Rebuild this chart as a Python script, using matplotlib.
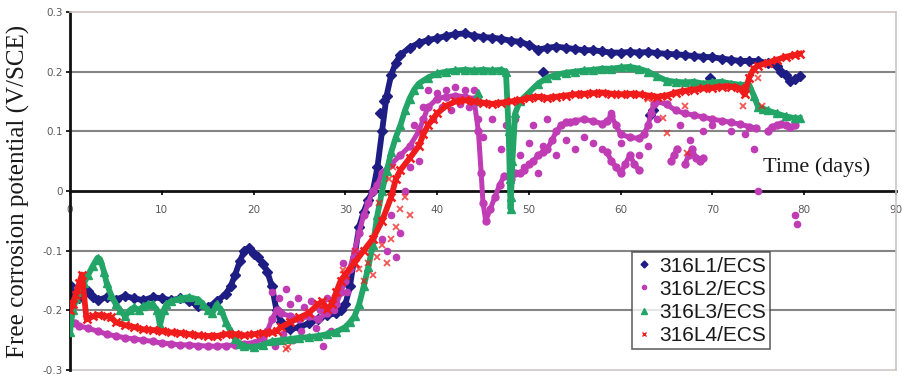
import matplotlib
matplotlib.use("Agg")
import matplotlib.pyplot as plt
from matplotlib.lines import Line2D

# ---- series data: free corrosion potential (V/SCE) vs time (days) ----
l1_days = [0, 0.5, 1, 1.5, 2, 2.5, 3, 4, 5, 6, 7, 8, 9, 10, 11, 12, 13, 14, 15, 16, 17, 17.5,
           18, 18.5, 19, 19.5, 20, 20.5, 21, 21.5, 22, 22.5, 23, 23.5, 24, 25, 26, 27, 28, 29,
           29.5, 30, 30.5, 31, 31.5, 32, 32.5, 33, 33.5, 34, 34.5, 35, 35.5, 36, 37, 38, 39, 40,
           41, 42, 43, 44, 45, 46, 47, 48, 49, 50, 51, 52, 53, 54, 55, 56, 57, 58, 59, 60, 61,
           62, 63, 64, 65, 66, 67, 68, 69, 70, 71, 72, 73, 74, 75, 76, 77, 77.5, 78, 78.5, 79, 79.5]
l1_vals = [-0.158, -0.175, -0.18, -0.172, -0.168, -0.178, -0.183, -0.178, -0.182, -0.176, -0.18,
           -0.183, -0.178, -0.18, -0.183, -0.18, -0.185, -0.192, -0.195, -0.185, -0.172, -0.16,
           -0.14, -0.118, -0.1, -0.095, -0.105, -0.11, -0.122, -0.135, -0.16, -0.2, -0.22, -0.228,
           -0.232, -0.228, -0.222, -0.215, -0.208, -0.205, -0.2, -0.19, -0.16, -0.11, -0.06,
           -0.035, -0.015, 0.0, 0.04, 0.1, 0.16, 0.195, 0.215, 0.228, 0.24, 0.248, 0.253, 0.256,
           0.26, 0.263, 0.264, 0.26, 0.258, 0.257, 0.255, 0.252, 0.25, 0.245, 0.237, 0.24, 0.242,
           0.24, 0.238, 0.236, 0.236, 0.234, 0.232, 0.232, 0.233, 0.232, 0.233, 0.231, 0.23,
           0.229, 0.228, 0.226, 0.225, 0.224, 0.222, 0.22, 0.218, 0.218, 0.218, 0.214, 0.21,
           0.2, 0.195, 0.185, 0.188, 0.192]
l1_extra_days = [51.5, 63.2, 63.5, 69.7, 33.8, 34.2]
l1_extra_vals = [0.2, 0.128, 0.135, 0.19, 0.13, 0.15]

l2_days = [0, 0.5, 1, 2, 3, 4, 5, 6, 7, 8, 9, 10, 11, 12, 13, 14, 15, 16, 17, 18, 19, 20, 21,
           21.5, 22, 22.5, 23, 24, 25, 26, 27, 28, 29, 29.5, 30, 30.5, 31, 31.5, 32, 32.5, 33,
           33.5, 34, 35, 36, 37, 38, 38.5, 39, 40, 41, 42, 43, 44, 44.5, 44.8, 45, 45.3, 45.8,
           46.3, 46.8, 47.3, 48, 48.5, 49, 49.5, 50, 50.5, 51, 51.5, 52, 52.5, 53, 53.5, 54,
           54.5, 55, 56, 57, 58, 58.5, 59, 59.5, 60, 61, 62, 62.5, 63, 63.3, 63.6, 64, 65, 66,
           67, 68, 69, 70, 71, 72, 73, 74, 74.8]
l2_vals = [-0.22, -0.222, -0.226, -0.23, -0.235, -0.24, -0.243, -0.246, -0.248, -0.25, -0.252,
           -0.255, -0.256, -0.258, -0.258, -0.259, -0.26, -0.26, -0.259, -0.258, -0.256, -0.254,
           -0.248, -0.235, -0.215, -0.2, -0.205, -0.21, -0.215, -0.21, -0.215, -0.205, -0.19,
           -0.17, -0.15, -0.13, -0.1, -0.07, -0.04, -0.02, 0.0, 0.01, 0.03, 0.045, 0.06, 0.075,
           0.1, 0.12, 0.14, 0.155, 0.158, 0.16, 0.158, 0.155, 0.1, 0.03, -0.02, -0.05, -0.03,
           -0.01, 0.01, 0.025, 0.02, 0.03, 0.03, 0.035, 0.045, 0.05, 0.06, 0.065, 0.07, 0.085,
           0.1, 0.11, 0.115, 0.115, 0.118, 0.12, 0.117, 0.113, 0.118, 0.125, 0.11, 0.095, 0.09,
           0.088, 0.095, 0.11, 0.13, 0.145, 0.15, 0.145, 0.135, 0.13, 0.127, 0.124, 0.12, 0.118,
           0.115, 0.112, 0.108, 0.105]
l2_low1_days = [58.5, 59, 59.5, 60, 60.5, 61, 61.5, 62]
l2_low1_vals = [0.065, 0.05, 0.04, 0.03, 0.045, 0.06, 0.045, 0.035]
l2_low2_days = [65.5, 65.8, 66.1]
l2_low2_vals = [0.05, 0.06, 0.07]
l2_low3_days = [67, 67.4, 67.8, 68.2, 68.6, 69]
l2_low3_vals = [0.045, 0.06, 0.07, 0.055, 0.05, 0.055]
l2_end_days = [76, 76.5, 77, 77.5, 78, 78.5, 79]
l2_end_vals = [0.1, 0.108, 0.11, 0.112, 0.11, 0.108, 0.11]
l2_scatter_days = [22, 22.3, 22.8, 23.2, 23.5, 24, 24.3, 24.8, 25.2, 25.5, 26, 26.3, 26.8, 27.2,
                   27.6, 28, 28.4, 28.8, 29.2, 29.8, 30.2, 33.5, 34, 34.5, 35, 35.5, 36, 36.5,
                   37, 37.5, 38, 38.5, 39, 39.5, 40, 40.5, 41, 41.5, 42, 42.5, 43, 43.5, 44,
                   44.5, 45, 46, 47, 47.5, 48, 48.5, 49, 49.5, 50, 50.5, 51, 51.5, 52, 53, 54,
                   55, 56, 57, 58, 59, 60, 62, 63, 64, 66.5, 67.5, 69, 70, 72, 73.5, 74.5, 75,
                   79, 79.2]
l2_scatter_vals = [-0.17, -0.26, -0.18, -0.24, -0.165, -0.19, -0.25, -0.18, -0.235, -0.195,
                   -0.245, -0.185, -0.23, -0.2, -0.26, -0.18, -0.235, -0.2, -0.165, -0.12,
                   -0.17, -0.05, -0.08, -0.1, -0.04, -0.11, -0.07, 0.0, 0.04, 0.11, 0.05, 0.14,
                   0.17, 0.12, 0.165, 0.14, 0.17, 0.135, 0.175, 0.145, 0.17, 0.14, 0.17, 0.12,
                   0.09, 0.12, 0.07, 0.11, 0.09, 0.12, 0.06, 0.04, 0.08, 0.11, 0.03, 0.075,
                   0.12, 0.06, 0.085, 0.07, 0.09, 0.08, 0.07, 0.13, 0.08, 0.06, 0.075, 0.12,
                   0.11, 0.085, 0.1, 0.11, 0.1, 0.095, 0.07, 0.0, -0.04, -0.055]

l3_days = [0, 0.3, 0.7, 1, 1.5, 2, 2.5, 3, 3.3, 3.7, 4, 4.5, 5, 5.5, 6, 6.5, 7, 7.5, 8, 8.5, 9,
           9.5, 9.8, 10.2, 10.5, 11, 12, 13, 14, 14.5, 15, 15.5, 16, 16.5, 17, 17.5, 18, 18.5,
           19, 20, 21, 22, 23, 24, 25, 26, 27, 28, 29, 30, 30.5, 31, 31.5, 32, 32.5, 33, 33.5,
           34, 34.5, 35, 35.5, 36, 36.5, 37, 37.5, 38, 39, 40, 41, 42, 43, 44, 45, 46, 47,
           47.5, 47.8, 48, 48.2, 48.5, 49, 50, 51, 52, 53, 54, 55, 56, 57, 58, 59, 60, 61, 62,
           63, 64, 65, 66, 67, 68, 69, 70, 71, 72, 73, 74, 74.5, 75, 75.5, 76, 77, 78, 79, 79.5]
l3_vals = [-0.237, -0.2, -0.18, -0.17, -0.155, -0.14, -0.125, -0.112, -0.115, -0.135, -0.155,
           -0.175, -0.19, -0.2, -0.21, -0.2, -0.195, -0.2, -0.193, -0.19, -0.19, -0.2, -0.225,
           -0.2, -0.19, -0.185, -0.18, -0.178, -0.182, -0.19, -0.2, -0.205, -0.19, -0.2, -0.22,
           -0.235, -0.248, -0.256, -0.26, -0.262, -0.258, -0.252, -0.25, -0.248, -0.246, -0.245,
           -0.243, -0.24, -0.236, -0.228, -0.22, -0.21, -0.19, -0.16, -0.128, -0.09, -0.04, 0.0,
           0.033, 0.065, 0.09, 0.11, 0.135, 0.155, 0.17, 0.18, 0.19, 0.197, 0.2, 0.202, 0.203,
           0.202, 0.203, 0.202, 0.203, 0.2, 0.1, -0.03, 0.05, 0.13, 0.15, 0.165, 0.18, 0.19,
           0.195, 0.198, 0.2, 0.202, 0.203, 0.205, 0.205, 0.207, 0.208, 0.205, 0.2, 0.192,
           0.185, 0.183, 0.182, 0.183, 0.18, 0.182, 0.183, 0.18, 0.178, 0.178, 0.16, 0.14,
           0.138, 0.135, 0.13, 0.125, 0.122, 0.122]
l3_extra_days = [44.5, 44.7, 47.9, 48.1]
l3_extra_vals = [0.165, 0.15, 0.02, -0.01]

l4_days = [0, 0.3, 0.6, 1, 1.3, 1.8, 2.5, 3, 4, 4.5, 5, 6, 7, 8, 9, 10, 11, 12, 13, 14, 15, 16,
           17, 18, 19, 20, 21, 22, 22.5, 23, 24, 25, 26, 27, 27.5, 28, 28.5, 29, 29.5, 30, 31,
           32, 33, 34, 35, 35.5, 36, 37, 38, 38.5, 39, 39.5, 40, 41, 42, 43, 44, 45, 46, 47,
           48, 49, 50, 51, 52, 53, 54, 55, 56, 57, 58, 59, 60, 61, 62, 63, 64, 65, 66, 67, 68,
           69, 70, 71, 72, 73, 73.5, 74, 74.5, 75, 76, 77, 78, 79, 79.5]
l4_vals = [-0.2, -0.19, -0.175, -0.155, -0.14, -0.215, -0.21, -0.208, -0.21, -0.212, -0.22,
           -0.225, -0.228, -0.232, -0.233, -0.235, -0.237, -0.238, -0.24, -0.242, -0.243,
           -0.243, -0.24, -0.24, -0.242, -0.24, -0.238, -0.237, -0.235, -0.228, -0.22, -0.212,
           -0.205, -0.19, -0.185, -0.198, -0.19, -0.17, -0.15, -0.14, -0.12, -0.1, -0.08,
           -0.05, -0.01, 0.02, 0.035, 0.055, 0.075, 0.095, 0.11, 0.12, 0.13, 0.143, 0.15,
           0.152, 0.15, 0.148, 0.146, 0.148, 0.15, 0.152, 0.156, 0.158, 0.156, 0.158, 0.16,
           0.162, 0.163, 0.164, 0.165, 0.163, 0.162, 0.163, 0.162, 0.16, 0.158, 0.16, 0.165,
           0.168, 0.17, 0.172, 0.173, 0.175, 0.175, 0.172, 0.162, 0.19, 0.205, 0.21, 0.215,
           0.22, 0.225, 0.228, 0.23]
l4_scatter_days = [23.5, 23.8, 29.8, 31, 31.5, 32, 32.5, 33, 33.5, 34, 34.5, 35, 35.5, 36, 36.5,
                   37, 34.8, 35.2, 33.7, 63, 64.6, 65.1, 67, 67.2, 73.3, 75, 75.4]
l4_scatter_vals = [-0.265, -0.262, -0.133, -0.1, -0.13, -0.15, -0.12, -0.14, -0.11, -0.09,
                   -0.12, -0.08, -0.06, -0.03, -0.01, -0.04, 0.02, 0.04, -0.02, 0.155, 0.123,
                   0.097, 0.143, 0.063, 0.143, 0.19, 0.142]

labels = ["316L1/ECS", "316L2/ECS", "316L3/ECS", "316L4/ECS"]
colors = ["#1d1d84", "#c03cb4", "#22a566", "#f01c1c"]
markers = ["D", "o", "^", "x"]

x_ticks = [0, 10, 20, 30, 40, 50, 60, 70, 80, 90]
y_ticks = [-0.3, -0.2, -0.1, 0, 0.1, 0.2, 0.3]
y_tick_labels = ["-0.3", "-0.2", "-0.1", "0", "0.1", "0.2", "0.3"]

fig = plt.figure(figsize=(9.02, 3.76), dpi=100)
ax = fig.add_axes([70 / 902, 6 / 376, 826 / 902, 358 / 376])
ax.set_xlim(0, 90)
ax.set_ylim(-0.3, 0.3)

# horizontal grid and frame
for yv in (-0.2, -0.1, 0.1, 0.2):
    ax.axhline(yv, color="#858585", lw=1.5, zorder=0.5)
ax.axhline(-0.3, color="#cfc8c8", lw=1.2, zorder=0.5, clip_on=False)
for side in ("top", "right"):
    ax.spines[side].set_color("#cfc4c4")
    ax.spines[side].set_linewidth(1.2)
ax.spines["left"].set_color("#111111")
ax.spines["left"].set_linewidth(2)
ax.spines["bottom"].set_position(("data", 0))
ax.spines["bottom"].set_color("#111111")
ax.spines["bottom"].set_linewidth(2)
ax.spines["bottom"].set_zorder(0.6)

ax.set_xticks(x_ticks)
ax.set_xticklabels([str(t) for t in x_ticks])
ax.set_yticks(y_ticks)
ax.set_yticklabels(y_tick_labels)
ax.tick_params(axis="x", direction="out", length=3, width=1.2, pad=7,
               labelsize=7.5, labelcolor="#5a5a5a")
ax.tick_params(axis="y", direction="out", length=3, width=1.2, pad=2,
               labelsize=7.5, labelcolor="#5a5a5a")

lw = 4.2
# 316L1
ax.plot(l1_days, l1_vals, color=colors[0], lw=lw, marker="D", ms=5.5, zorder=2)
ax.plot(l1_extra_days, l1_extra_vals, ls="none", color=colors[0], marker="D", ms=5, zorder=2)
# 316L2
ax.plot(l2_days, l2_vals, color=colors[1], lw=lw - 0.6, marker="o", ms=5, zorder=3)
for dd, vv in ((l2_low1_days, l2_low1_vals), (l2_low2_days, l2_low2_vals),
               (l2_low3_days, l2_low3_vals), (l2_end_days, l2_end_vals)):
    ax.plot(dd, vv, color=colors[1], lw=lw - 0.6, marker="o", ms=5, zorder=3)
ax.plot(l2_scatter_days, l2_scatter_vals, ls="none", color=colors[1], marker="o", ms=4.5, zorder=3)
# 316L3
ax.plot(l3_days, l3_vals, color=colors[2], lw=lw, marker="^", ms=6, zorder=4)
ax.plot(l3_extra_days, l3_extra_vals, ls="none", color=colors[2], marker="^", ms=5.5, zorder=4)
# 316L4
ax.plot(l4_days, l4_vals, color=colors[3], lw=lw, marker="x", ms=5.5, mew=1.8, zorder=5)
ax.plot(l4_scatter_days, l4_scatter_vals, ls="none", color=colors[3], alpha=0.75,
        marker="x", ms=4.5, mew=1.3, zorder=5)

ax.set_ylabel("Free corrosion potential (V/SCE)", family="Liberation Serif",
              fontsize=18, color="#1a1a1a")
ax.yaxis.set_label_coords(-0.0485, 0.5)
ax.text(81.3, 0.04, "Time (days)", family="Liberation Serif", fontsize=16,
        ha="center", va="center", color="#1a1a1a")

handles = [Line2D([], [], ls="none", marker=m, color=c, ms=ms, mew=mw)
           for m, c, ms, mw in zip(markers, colors, [3.5, 3, 4, 3.5], [1, 1, 1, 1])]
leg = ax.legend(handles, labels, loc="lower left", bbox_to_anchor=(0.68, 0.058),
                prop={"family": "Liberation Sans", "size": 15}, frameon=True,
                fancybox=False, borderpad=0.2, labelspacing=0.2, handlelength=0.8,
                handletextpad=0.3, borderaxespad=0)
leg.get_frame().set_edgecolor("#404040")
leg.get_frame().set_linewidth(1.2)
for t in leg.get_texts():
    t.set_color("#1a1a1a")

fig.savefig("out.png", dpi=100)
